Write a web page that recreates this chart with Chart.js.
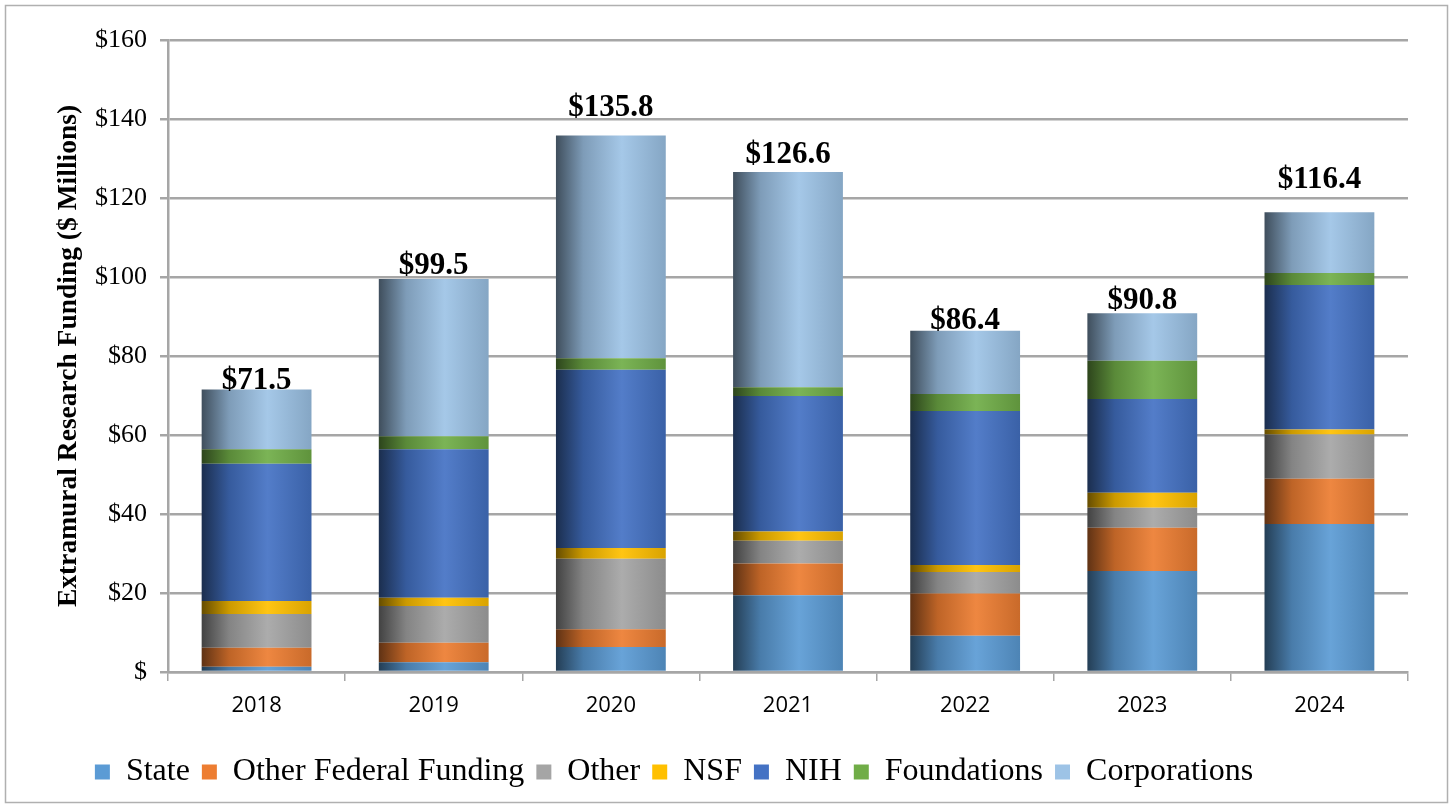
<!DOCTYPE html>
<html>
<head>
<meta charset="utf-8">
<script src="https://cdn.jsdelivr.net/npm/chart.js@4.4.1/dist/chart.umd.min.js"></script>
<style>
    html, body { margin: 0; padding: 0; background: #fff; }
    #wrap { width: 1453px; height: 808px; position: relative; }
</style>
</head>
<body>
<div id="wrap"><canvas id="chart" width="1453" height="808"></canvas></div>
<script>
const years = ["2018", "2019", "2020", "2021", "2022", "2023", "2024"];

const state = [1.3, 2.5, 6.3, 19.4, 9.2, 25.6, 37.5];
const otherFederal = [4.85, 4.9, 4.5, 8.1, 10.7, 10.9, 11.4];
const other = [8.55, 9.3, 17.9, 5.7, 5.4, 5.1, 11.2];
const nsf = [3.3, 2.1, 2.7, 2.4, 1.8, 3.8, 1.3];
const nih = [34.7, 37.6, 45.1, 34.3, 39.0, 23.7, 36.6];
const foundations = [3.7, 3.3, 2.9, 2.2, 4.3, 9.7, 3.0];
const corporations = [15.1, 39.8, 56.4, 54.5, 16.0, 12.0, 15.4];

const totals = [71.5, 99.5, 135.8, 126.6, 86.4, 90.8, 116.4];

// gap (px) between each total label and the top of its bar, as placed in the original
const labelGaps = [1, 5, 20, 9, 2, 4, 24];

const BAR_PCT = 0.62;
const GRID = "#a6a6a6";

function rgb(hex) {
    const n = parseInt(hex.slice(1), 16);
    return [(n >> 16) & 255, (n >> 8) & 255, n & 255];
}

// f < 1 darkens, f > 1 blends toward white
function shade(hex, f) {
    const c = rgb(hex).map((v) => {
        const out = f <= 1 ? v * f : v + (255 - v) * (f - 1);
        return Math.round(Math.min(255, out));
    });
    return `rgb(${c[0]},${c[1]},${c[2]})`;
}

// horizontal gradient so each bar looks like a cylinder
function cylinder(hex) {
    return (ctx) => {
        const chart = ctx.chart;
        const x = chart.scales.x;
        if (!x || !chart.chartArea || ctx.type !== "data") return hex;
        const cx = x.getPixelForValue(ctx.dataIndex);
        const w = (x.width / years.length) * BAR_PCT;
        const g = chart.ctx.createLinearGradient(cx - w / 2, 0, cx + w / 2, 0);
        g.addColorStop(0, shade(hex, 0.4));
        g.addColorStop(0.25, shade(hex, 0.8));
        g.addColorStop(0.6, shade(hex, 1.08));
        g.addColorStop(1, shade(hex, 0.85));
        return g;
    };
}

const series = [
    ["State", state, "#5B9BD5"],
    ["Other Federal Funding", otherFederal, "#ED7D31"],
    ["Other", other, "#A5A5A5"],
    ["NSF", nsf, "#FFC000"],
    ["NIH", nih, "#4472C4"],
    ["Foundations", foundations, "#70AD47"],
    ["Corporations", corporations, "#9DC3E6"],
];

const totalLabels = {
    id: "totalLabels",
    afterDatasetsDraw(chart) {
        const { ctx, scales } = chart;
        ctx.save();
        ctx.font = "bold 31px 'Liberation Serif'";
        ctx.fillStyle = "#000";
        ctx.textAlign = "center";
        ctx.textBaseline = "alphabetic";
        totals.forEach((t, i) => {
            const x = scales.x.getPixelForValue(i);
            const y = scales.y.getPixelForValue(t) - labelGaps[i];
            ctx.fillText("$" + t.toFixed(1), x, y);
        });
        ctx.restore();
    },
};

const frame = {
    id: "frame",
    beforeDraw(chart) {
        const ctx = chart.ctx;
        ctx.save();
        ctx.fillStyle = "#fff";
        ctx.fillRect(0, 0, chart.width, chart.height);
        ctx.strokeStyle = "#b0b0b0";
        ctx.lineWidth = 1.5;
        ctx.strokeRect(5.5, 5.5, chart.width - 11, chart.height - 11);
        ctx.restore();
    },
};

// legend in the original sits a bit left of centre
const legendShift = {
    id: "legendShift",
    afterLayout(chart) {
        const lg = chart.legend;
        if (!lg) return;
        lg.left -= 50;
        lg.right -= 50;
    },
};

const chartInstance = new Chart(document.getElementById("chart"), {
    type: "bar",
    data: {
        labels: years,
        datasets: series.map(([label, data, color]) => ({
            label,
            data,
            backgroundColor: cylinder(color),
            borderWidth: 0,
            categoryPercentage: BAR_PCT,
            barPercentage: 1,
        })),
    },
    plugins: [frame, totalLabels, legendShift],
    options: {
        responsive: false,
        animation: false,
        layout: {
            padding: { left: 40, right: 45, top: 40, bottom: 10 },
        },
        scales: {
            x: {
                stacked: true,
                grid: {
                    drawOnChartArea: false,
                    drawTicks: true,
                    tickLength: 9,
                    color: GRID,
                    lineWidth: 1.5,
                },
                border: { color: GRID, width: 2.5 },
                ticks: {
                    color: "#000",
                    padding: 12,
                    font: { family: "'Open Sans'", size: 22 },
                },
                afterFit: (s) => { s.height = 72; },
            },
            y: {
                stacked: true,
                min: 0,
                max: 160,
                grid: {
                    color: GRID,
                    lineWidth: 2.5,
                    tickLength: 8,
                },
                border: { color: GRID, width: 2.5 },
                ticks: {
                    stepSize: 20,
                    color: "#000",
                    padding: 13,
                    font: { family: "'Liberation Serif'", size: 26 },
                    callback: (v) => (v === 0 ? "$" : "$" + v),
                },
                title: {
                    display: true,
                    text: "Extramural Research Funding ($ Millions)",
                    color: "#000",
                    padding: { top: 12, bottom: 0 },
                    font: { family: "'Liberation Serif'", size: 27.5, weight: "bold" },
                },
                afterFit: (s) => { s.width = 128; },
            },
        },
        plugins: {
            legend: {
                position: "bottom",
                labels: {
                    color: "#000",
                    boxWidth: 15,
                    boxHeight: 15,
                    padding: 12,
                    font: { family: "'Liberation Serif'", size: 32 },
                    generateLabels: (chart) =>
                        Chart.defaults.plugins.legend.labels.generateLabels(chart).map((item, i) => ({
                            ...item,
                            fillStyle: series[i][2],
                            strokeStyle: series[i][2],
                            lineWidth: 0,
                        })),
                },
            },
            tooltip: { enabled: false },
        },
    },
});
</script>
</body>
</html>
